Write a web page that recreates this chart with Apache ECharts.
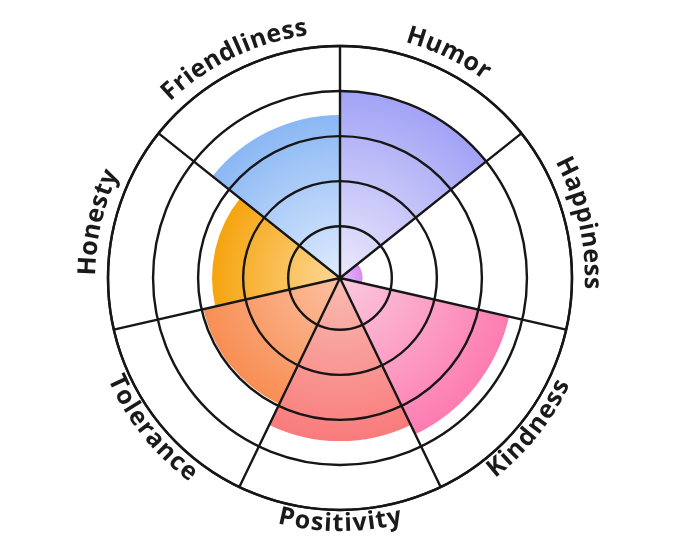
<!DOCTYPE html>
<html><head><meta charset="utf-8">
<script src="https://cdn.jsdelivr.net/npm/echarts@6/dist/echarts.min.js"></script>
<style>html,body{margin:0;padding:0;background:#fff}#main{width:680px;height:557px}</style>
</head><body><div id="main"></div>
<script>
const categories = ['Humor', 'Happiness', 'Kindness', 'Positivity', 'Tolerance', 'Honesty', 'Friendliness'];
const values = [4.0, 0.35, 3.7, 3.47, 2.96, 2.69, 3.47];
const radiusMin = -0.15;
const radiusMax = 5;

const innerColors = ['#ece9fc', '#ecc4f8', '#fbcade', '#f9bcb2', '#fcc0a0', '#fdd898', '#dfecfe'];
const outerColors = ['#a2a3f6', '#d58af3', '#fd7cb1', '#f97b7c', '#f88e54', '#f6a40e', '#8ab7f4'];

const CX = 340, CY = 278, R = 232;
const LINE = '#161616';
const FONT_SIZE = 25, FONT_FAMILY = '"Open Sans", sans-serif', LETTER_SPACING = 0.8;
const measureCtx = document.createElement('canvas').getContext('2d');
measureCtx.font = 'bold ' + FONT_SIZE + 'px ' + FONT_FAMILY;

function barColor(i) {
  const end = (values[i] - radiusMin) / (radiusMax - radiusMin);
  return {
    type: 'radial', x: CX, y: CY, r: R, global: true,
    colorStops: [
      { offset: 0, color: innerColors[i] },
      { offset: end, color: outerColors[i] },
      { offset: 1, color: outerColors[i] }
    ]
  };
}

function renderLabel(params, api) {
  const cs = params.coordSys;
  const p = api.coord([api.value(0), params.dataIndex]);
  const theta = Math.atan2(cs.cy - p[1], p[0] - cs.cx);
  const outer = Math.hypot(p[0] - cs.cx, p[1] - cs.cy);
  const bottom = Math.sin(theta) < -0.01;
  const rho = outer + (bottom ? 14 : 20);
  const text = categories[params.dataIndex];
  const chars = text.split('');
  const widths = chars.map(c => measureCtx.measureText(c).width);
  const W = widths.reduce((a, b) => a + b, 0) + LETTER_SPACING * (chars.length - 1);
  let acc = 0;
  const children = chars.map((ch, k) => {
    const c = acc + widths[k] / 2;
    acc += widths[k] + LETTER_SPACING;
    const d = (W / 2 - c) / rho;
    const phi = bottom ? theta - d : theta + d;
    const rot = bottom ? phi + Math.PI / 2 : phi - Math.PI / 2;
    return {
      type: 'text',
      x: cs.cx + rho * Math.cos(phi),
      y: cs.cy - rho * Math.sin(phi),
      rotation: rot,
      style: {
        text: ch,
        fill: '#1a1a1a',
        fontSize: FONT_SIZE,
        fontWeight: 'bold',
        fontFamily: FONT_FAMILY,
        align: 'center',
        verticalAlign: 'middle'
      }
    };
  });
  return { type: 'group', children: children };
}

const chart = echarts.init(document.getElementById('main'), null, { renderer: 'canvas' });
chart.setOption({
  backgroundColor: '#ffffff',
  animation: false,
  polar: { center: [CX, CY], radius: [0, R] },
  angleAxis: {
    type: 'category',
    data: categories,
    startAngle: 90,
    clockwise: true,
    z: 10,
    axisLine: { show: true, lineStyle: { color: LINE, width: 2.4 } },
    axisTick: { show: false },
    axisLabel: { show: false },
    splitLine: { show: true, lineStyle: { color: LINE, width: 2.4 } }
  },
  radiusAxis: {
    type: 'value',
    min: radiusMin,
    max: radiusMax,
    startValue: radiusMin,
    splitNumber: 5,
    z: 10,
    axisLine: { show: false },
    axisTick: { show: false },
    axisLabel: { show: false },
    splitLine: { show: true, lineStyle: { color: [LINE, 'rgba(0,0,0,0)', LINE, LINE, LINE, LINE, LINE], width: 2.4 } }
  },
  series: [
    {
      type: 'bar',
      coordinateSystem: 'polar',
      barCategoryGap: '0%',
      data: values.map((v, i) => ({ value: v, itemStyle: { color: barColor(i) } })),
      z: 2
    },
    {
      type: 'custom',
      coordinateSystem: 'polar',
      silent: true,
      z: 20,
      encode: { radius: 0, angle: 1 },
      data: categories.map(c => [radiusMax, c]),
      renderItem: renderLabel
    }
  ]
});
</script>
</body></html>
